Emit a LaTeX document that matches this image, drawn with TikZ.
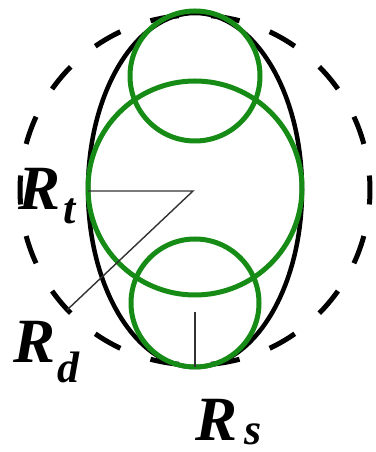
\documentclass[tikz,border=0pt]{standalone}
\usepackage{fontspec}
\setmainfont{Liberation Serif}
\definecolor{circgreen}{RGB}{22,140,22}
\definecolor{thinline}{RGB}{50,50,50}
\begin{document}
\begin{tikzpicture}[x=1pt,y=1pt,
  dashline/.style={line width=5pt,black,line cap=butt},
  outline/.style={line width=4.5pt,black},
  greencirc/.style={line width=5pt,circgreen},
  radius line/.style={line width=1.4pt,thinline},
  bigR/.style={inner sep=0pt,anchor=base west,font=\fontsize{63}{63}\selectfont\bfseries\itshape},
  subR/.style={inner sep=0pt,anchor=base west,font=\fontsize{44}{44}\selectfont\bfseries\itshape}]
\useasboundingbox (0,0) rectangle (375,452);
% dashed outer circle
\coordinate (C) at (195,262);
\foreach \a in {0,20,...,340}{
  \draw[dashline] (C) ++(\a-4.75:175) arc[start angle=\a-4.75, end angle=\a+4.75, radius=175];
}
% black ellipse
\draw[outline] (C) ellipse [x radius=107, y radius=177];
% green circles
\draw[greencirc] (195,264) circle[radius=107];
\draw[greencirc] (195,376) circle[radius=65];
\draw[greencirc] (195,149) circle[radius=64];
% radius lines
\coordinate (O) at (193,261);
\coordinate (tL) at (88,261);
\coordinate (dE) at (67,142);
\coordinate (sT) at (195,140);
\coordinate (sB) at (195,85);
\draw[radius line] (tL) -- (O) -- (dE);
\draw[radius line] (sT) -- (sB);
% labels
\node[bigR] (Rt) at (18,242) {R};
\node[subR] (Rtsub) at (63,228) {t};
\node[bigR] (Rd) at (13,89) {R};
\node[subR] (Rdsub) at (57,69) {d};
\node[bigR] (Rs) at (195,11) {R};
\node[subR] (Rssub) at (244,7) {s};
\end{tikzpicture}
\end{document}
